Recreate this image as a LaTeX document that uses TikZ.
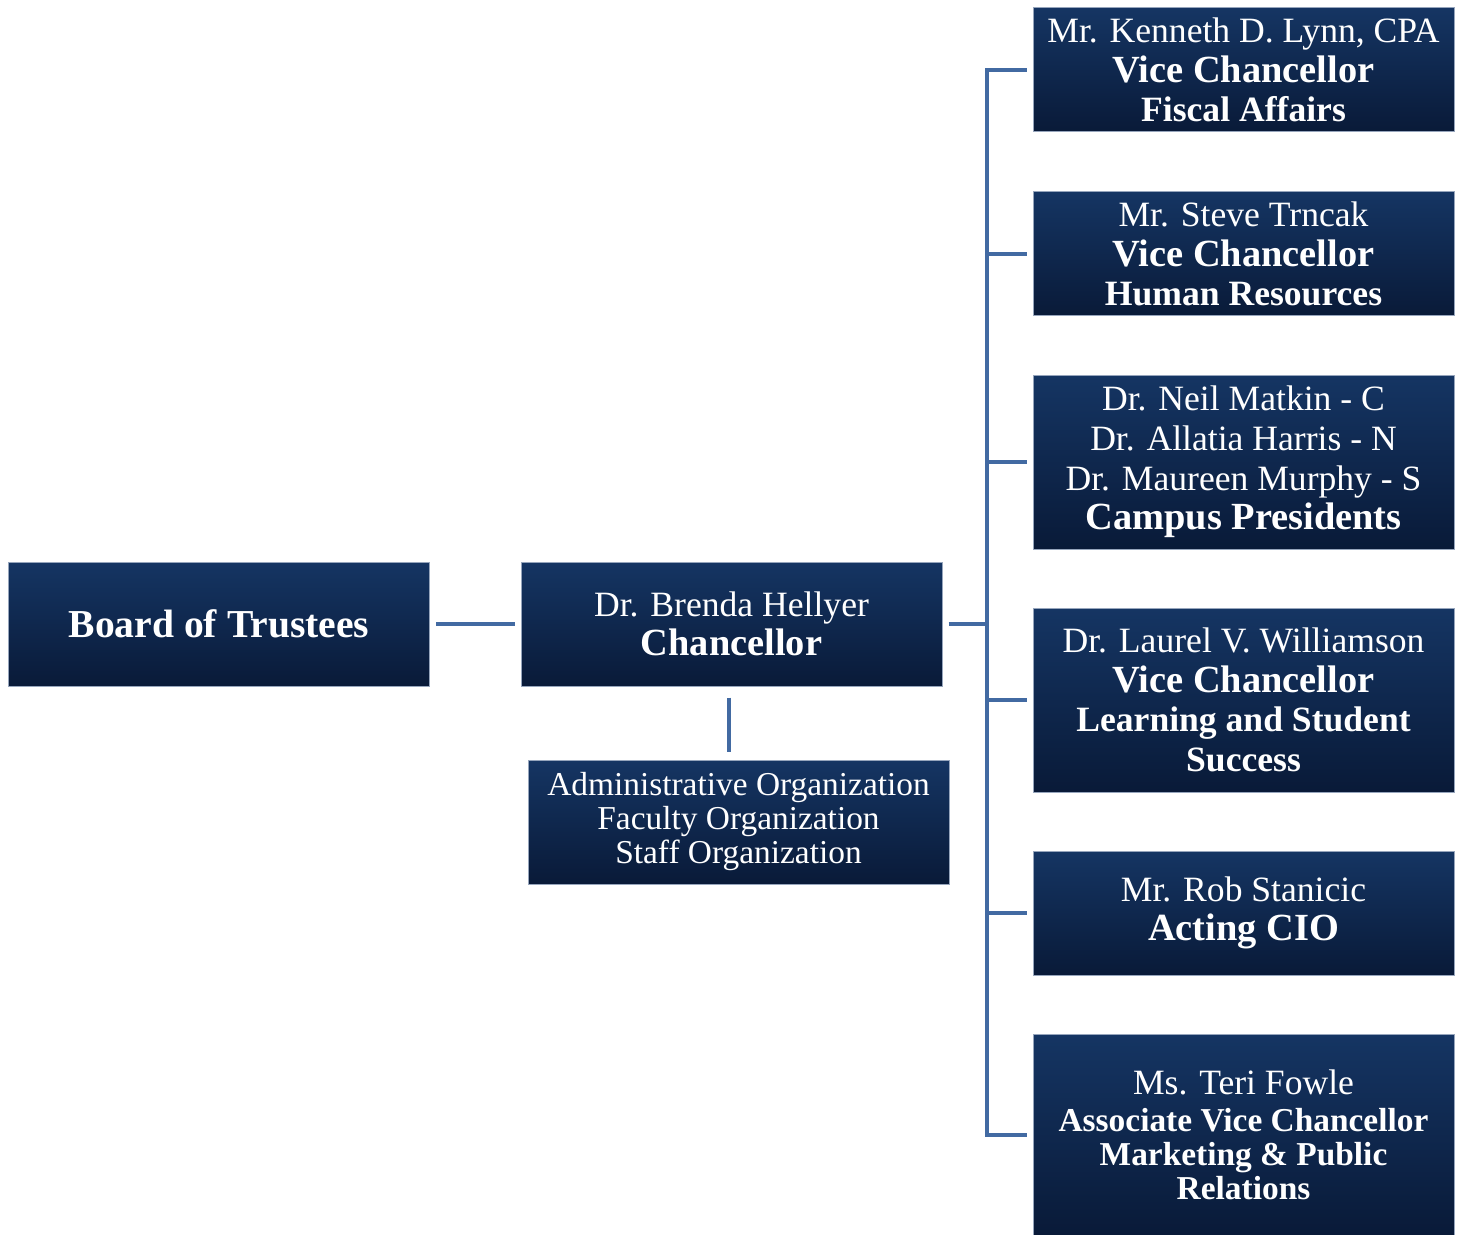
\documentclass[tikz,border=0pt]{standalone}
\usepackage{fontspec}
\setmainfont{Liberation Serif}
\usepackage{tikz}
\definecolor{boxtop}{RGB}{21,53,99}
\definecolor{boxbot}{RGB}{9,26,56}
\definecolor{boxedge}{RGB}{150,165,188}
\definecolor{linkblue}{RGB}{66,106,162}
\newcommand{\nmsize}{\fontsize{17.8}{19.8}\selectfont}
\newcommand{\smsize}{\fontsize{16.7}{17}\selectfont}

\begin{document}
\begin{tikzpicture}[x=0.5pt,y=-0.5pt,
  orgbox/.style={draw=boxedge, line width=0.5pt, top color=boxtop, bottom color=boxbot,
    text=white, align=center, inner sep=0pt, minimum width=210.5pt, font=\nmsize},
  link/.style={draw=linkblue, line width=2pt}]
  \useasboundingbox (0,0) rectangle (1465,1235);

  % left part
  \node[orgbox, minimum height=62pt] (board) at (219,624) {\bfseries\fontsize{19.8}{20}\selectfont Board of Trustees};
  \node[orgbox, minimum height=62pt] (chan) at (731.5,624) {Dr. Brenda Hellyer\\ \bfseries\fontsize{19.2}{19.8}\selectfont Chancellor};
  \node[orgbox, minimum height=62pt, font=\smsize] (admin) at (738.5,822) {Administrative Organization\\ Faculty Organization\\ Staff Organization};

  % right column
  \node[orgbox, minimum height=62pt] (fiscal) at (1243.5,70) {Mr. Kenneth D. Lynn, CPA\\ \bfseries\fontsize{19.2}{19.8}\selectfont Vice Chancellor\\ \bfseries Fiscal Affairs};
  \node[orgbox, minimum height=62pt] (hr) at (1243.5,254) {Mr. Steve Trncak\\ \bfseries\fontsize{19.2}{19.8}\selectfont Vice Chancellor\\ \bfseries Human Resources};
  \node[orgbox, minimum height=87pt] (pres) at (1243.5,462) {Dr. Neil Matkin - C\\ Dr. Allatia Harris - N\\ Dr. Maureen Murphy - S\\ \bfseries\fontsize{19.2}{19.8}\selectfont Campus Presidents};
  \node[orgbox, minimum height=92pt] (learn) at (1243.5,700) {Dr. Laurel V. Williamson\\ \bfseries\fontsize{19.2}{19.8}\selectfont Vice Chancellor\\ \bfseries Learning and Student\\ \bfseries Success};
  \node[orgbox, minimum height=62pt] (cio) at (1243.5,913) {Mr. Rob Stanicic\\ \bfseries\fontsize{19.2}{19.8}\selectfont Acting CIO};
  \node[orgbox, minimum height=100.5pt, font=\smsize] (mkt) at (1243.5,1134.5) {\nmsize Ms. Teri Fowle\\[1.5pt] \bfseries Associate Vice Chancellor\\ \bfseries Marketing \& Public\\ \bfseries Relations};

  \coordinate (bustop) at (987,70);
  \coordinate (chanfoot) at ([xshift=-1.25pt]chan.south);

  % connectors
  \draw[link] ([xshift=3pt]board.east) -- ([xshift=-3pt]chan.west);
  \draw[link] ([yshift=-5.5pt]chanfoot) -- ([yshift=4pt]chanfoot |- admin.north);
  \draw[link] ([xshift=3pt]chan.east) -- (bustop |- chan);
  \draw[link] ([xshift=-3pt]fiscal.west) -- (bustop) -- (bustop |- mkt) -- ([xshift=-3pt]mkt.west);
  \foreach \n in {hr,pres,learn,cio}
    \draw[link] (bustop |- \n) -- ([xshift=-3pt]\n.west);
\end{tikzpicture}
\end{document}
